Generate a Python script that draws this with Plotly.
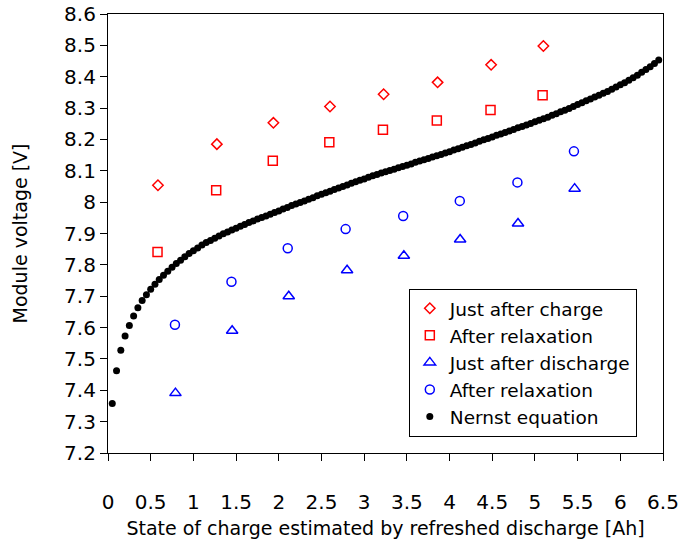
import plotly.graph_objects as go

# Just after charge (diamonds)
charge_x = [0.585, 1.275, 1.937, 2.600, 3.228, 3.86, 4.487, 5.099]
charge_y = [8.054, 8.185, 8.253, 8.305, 8.344, 8.382, 8.438, 8.498]
# After relaxation (squares, after charge)
relax_c_x = [0.580, 1.267, 1.930, 2.592, 3.220, 3.851, 4.480, 5.090]
relax_c_y = [7.841, 8.038, 8.132, 8.191, 8.231, 8.260, 8.294, 8.341]
# Just after discharge (triangles)
dis_x = [0.790, 1.454, 2.117, 2.800, 3.465, 4.124, 4.802, 5.465]
dis_y = [7.391, 7.590, 7.700, 7.783, 7.829, 7.881, 7.932, 8.043]
# After relaxation (circles, after discharge)
relax_d_x = [0.784, 1.446, 2.105, 2.783, 3.457, 4.120, 4.795, 5.457]
relax_d_y = [7.609, 7.746, 7.853, 7.914, 7.956, 8.004, 8.063, 8.162]

# Nernst equation (dots)
nernst_x = [round(0.05 * (i + 1), 2) for i in range(129)]
nernst_y = [
    7.358, 7.462, 7.528, 7.573, 7.607, 7.637, 7.663, 7.686, 7.705, 7.722,
    7.738, 7.753, 7.767, 7.780, 7.792, 7.804, 7.815, 7.826, 7.836, 7.845,
    7.854, 7.863, 7.871, 7.878, 7.885, 7.892, 7.899, 7.905, 7.911, 7.917,
    7.923, 7.929, 7.935, 7.940, 7.946, 7.951, 7.956, 7.961, 7.967, 7.972,
    7.978, 7.983, 7.989, 7.994, 7.999, 8.004, 8.009, 8.014, 8.020, 8.025,
    8.030, 8.035, 8.040, 8.045, 8.050, 8.055, 8.060, 8.065, 8.070, 8.074,
    8.079, 8.084, 8.088, 8.093, 8.097, 8.101, 8.105, 8.110, 8.114, 8.118,
    8.122, 8.127, 8.131, 8.135, 8.139, 8.144, 8.148, 8.152, 8.157, 8.161,
    8.166, 8.170, 8.175, 8.180, 8.184, 8.189, 8.194, 8.199, 8.203, 8.208,
    8.213, 8.217, 8.222, 8.227, 8.232, 8.237, 8.241, 8.246, 8.251, 8.256,
    8.261, 8.266, 8.271, 8.277, 8.282, 8.288, 8.293, 8.299, 8.305, 8.311,
    8.317, 8.323, 8.329, 8.335, 8.341, 8.347, 8.353, 8.360, 8.367, 8.374,
    8.381, 8.389, 8.397, 8.405, 8.414, 8.423, 8.432, 8.442, 8.453,
]

x_ticks = [0, 0.5, 1, 1.5, 2, 2.5, 3, 3.5, 4, 4.5, 5, 5.5, 6, 6.5]
x_ticklabels = ["0", "0.5", "1", "1.5", "2", "2.5", "3", "3.5", "4", "4.5", "5", "5.5", "6", "6.5"]
y_ticks = [7.2, 7.3, 7.4, 7.5, 7.6, 7.7, 7.8, 7.9, 8.0, 8.1, 8.2, 8.3, 8.4, 8.5, 8.6]
y_ticklabels = ["7.2", "7.3", "7.4", "7.5", "7.6", "7.7", "7.8", "7.9", "8", "8.1", "8.2", "8.3", "8.4", "8.5", "8.6"]

RED = "#FF0000"
BLUE = "#0000FF"
FONT = "DejaVu Sans"

fig = go.Figure()
fig.add_trace(go.Scatter(x=charge_x, y=charge_y, mode="markers", name="Just after charge",
                         marker=dict(symbol="diamond-open", size=8, color=RED, line=dict(width=1.5, color=RED))))
fig.add_trace(go.Scatter(x=relax_c_x, y=relax_c_y, mode="markers", name="After relaxation",
                         marker=dict(symbol="square-open", size=9, color=RED, line=dict(width=1.5, color=RED))))
fig.add_trace(go.Scatter(x=dis_x, y=dis_y, mode="markers", name="Just after discharge",
                         marker=dict(symbol="triangle-up-open", size=10, color=BLUE, line=dict(width=1.5, color=BLUE))))
fig.add_trace(go.Scatter(x=relax_d_x, y=relax_d_y, mode="markers", name="After relaxation",
                         marker=dict(symbol="circle-open", size=9, color=BLUE, line=dict(width=1.5, color=BLUE))))
fig.add_trace(go.Scatter(x=nernst_x, y=nernst_y, mode="markers", name="Nernst equation",
                         marker=dict(symbol="circle", size=7, color="black")))

fig.update_layout(
    width=681, height=539,
    margin=dict(l=108, r=18, t=14, b=86),
    paper_bgcolor="white", plot_bgcolor="white",
    font=dict(family=FONT, size=19, color="black"),
    showlegend=True,
    legend=dict(x=0.542, y=0.037, xanchor="left", yanchor="bottom",
                bordercolor="black", borderwidth=1, bgcolor="white",
                font=dict(family=FONT, size=18.5, color="black"),
                itemsizing="trace"),
    xaxis=dict(range=[0, 6.5], tickvals=x_ticks, ticktext=x_ticklabels, automargin=False,
               showgrid=False, zeroline=False, showline=True, linecolor="black", linewidth=1.2,
               mirror=True, ticks="outside", ticklen=7, tickcolor="black", tickwidth=1.2,
               ticklabelstandoff=24, ticklabeloverflow="allow",
               tickfont=dict(family=FONT, size=20, color="black"),
               title=dict(text="State of charge estimated by refreshed discharge [Ah]",
                          font=dict(family=FONT, size=19, color="black"), standoff=8)),
    yaxis=dict(range=[7.2, 8.6], tickvals=y_ticks, ticktext=y_ticklabels, automargin=False,
               showgrid=False, zeroline=False, showline=True, linecolor="black", linewidth=1.2,
               mirror=True, ticks="outside", ticklen=7, tickcolor="black", tickwidth=1.2,
               ticklabeloverflow="allow",
               tickfont=dict(family=FONT, size=20, color="black"),
               title=dict(text="Module voltage [V]",
                          font=dict(family=FONT, size=19, color="black"), standoff=31)),
)

fig.write_html("out.html")
